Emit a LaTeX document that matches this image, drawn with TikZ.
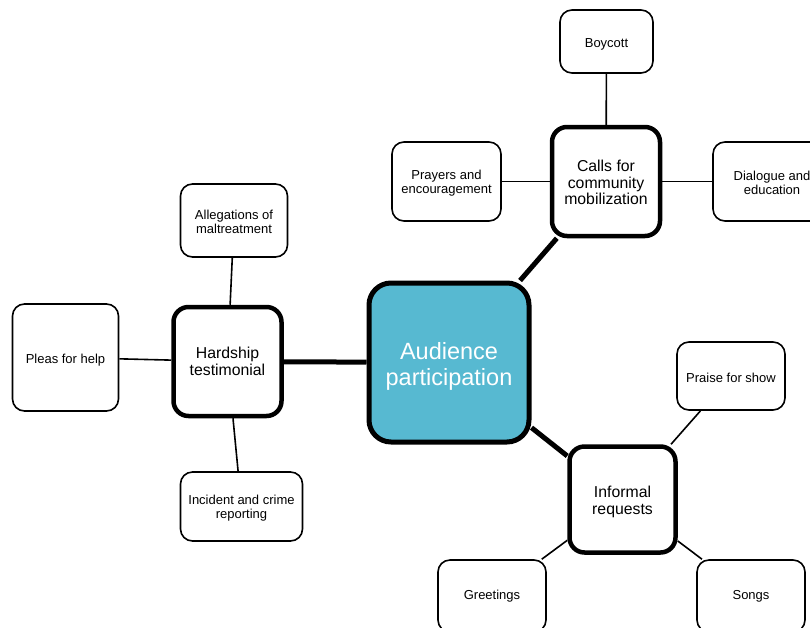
\documentclass[tikz,border=0pt]{standalone}
\usepackage{fontspec}
\setmainfont{Liberation Sans}
\definecolor{cfill}{HTML}{57B9D1}
\newcommand\dropln[2]{\raisebox{-#1}[\height][\depth]{#2}}
\tikzset{
  mainbox/.style={rectangle, rounded corners=22pt, draw=black, fill=cfill, line width=5pt,
    minimum width=160pt, minimum height=159pt, text=white, align=center, inner sep=0pt,
    font=\fontsize{23.5}{26}\selectfont},
  midbox/.style={rectangle, rounded corners=15pt, draw=black, fill=white, line width=4.5pt,
    minimum width=108pt, minimum height=109pt, align=center, inner sep=0pt,
    font=\fontsize{15.8}{16.5}\selectfont},
  leafbox/.style={rectangle, rounded corners=12pt, draw=black, fill=white, line width=1.6pt,
    align=center, inner sep=0pt, font=\fontsize{13}{14.5}\selectfont},
  thicklink/.style={line width=5pt},
  thinlink/.style={line width=1.6pt},
}
\begin{document}
\begin{tikzpicture}[x=1pt,y=-1pt]
\useasboundingbox (0,0) rectangle (810,627);
\clip (0,0) rectangle (810,627);
% nodes
\node[mainbox] (aud) at (449,362.5) {\dropln{3.5pt}{Audience}\\\dropln{3.5pt}{participation}};
\node[midbox] (hard) at (227.5,361.5) {Hardship\\testimonial};
\node[midbox] (calls) at (606,181.5) {\dropln{1pt}{Calls for}\\\dropln{1pt}{community}\\\dropln{1pt}{mobilization}};
\node[midbox, minimum width=106pt, minimum height=106pt] (inf) at (622.5,499.5) {\dropln{2.5pt}{Informal}\\\dropln{2.5pt}{requests}};
\node[leafbox, minimum width=106pt, minimum height=107pt] (pleas) at (65.5,357.5) {\dropln{2.5pt}{Pleas for help}};
\node[leafbox, minimum width=107pt, minimum height=73pt] (alleg) at (234,220.5) {\dropln{1.5pt}{Allegations of}\\\dropln{1.5pt}{maltreatment}};
\node[leafbox, minimum width=122pt, minimum height=69pt] (incid) at (241.5,506.5) {\dropln{1.5pt}{Incident and crime}\\\dropln{1.5pt}{reporting}};
\node[leafbox, minimum width=93pt, minimum height=63pt] (boy) at (606.5,41.5) {\dropln{2.5pt}{Boycott}};
\node[leafbox, minimum width=109pt, minimum height=79pt] (pray) at (446.5,181.5) {\dropln{1.5pt}{Prayers and}\\\dropln{1.5pt}{encouragement}};
\node[leafbox, minimum width=118pt, minimum height=79pt] (dial) at (772,181.5) {\dropln{1.5pt}{Dialogue and}\\\dropln{1.5pt}{education}};
\node[leafbox, minimum width=108pt, minimum height=68pt] (praise) at (731,376) {\dropln{1.5pt}{Praise for show}};
\node[leafbox, minimum width=108pt, minimum height=72pt] (greet) at (492,596) {Greetings};
\node[leafbox, minimum width=108pt, minimum height=72pt] (songs) at (751,596) {Songs};
% connectors
\draw[thicklink] (aud) -- (hard);
\draw[thicklink] (aud) -- (calls);
\draw[thicklink] (aud) -- (inf);
\draw[thinlink] (hard) -- (pleas);
\draw[thinlink] (hard) -- (alleg);
\draw[thinlink] (hard) -- (incid);
\draw[thinlink] (calls) -- (boy);
\draw[thinlink] (calls) -- (pray);
\draw[thinlink] (calls) -- (dial);
\draw[thinlink] (inf) -- (praise);
\draw[thinlink] (inf) -- (greet);
\draw[thinlink] (inf) -- (songs);
\end{tikzpicture}
\end{document}
